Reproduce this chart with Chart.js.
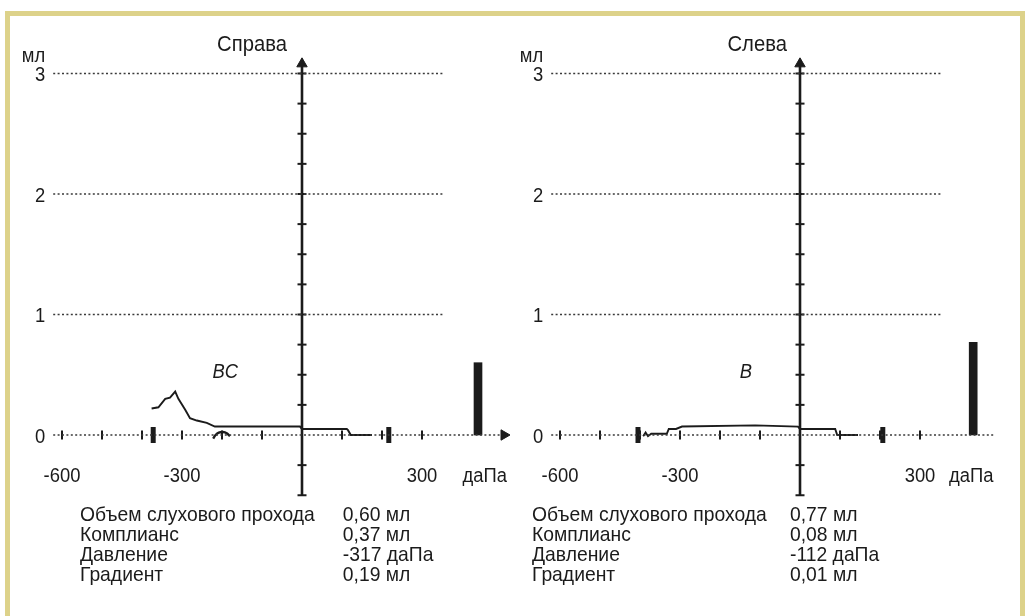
<!DOCTYPE html>
<html>
<head>
<meta charset="utf-8">
<script src="https://cdn.jsdelivr.net/npm/chart.js@4.4.0/dist/chart.umd.min.js"></script>
<style>
  body { margin: 0; background: #fff; overflow: hidden; }
  #frame {
    position: absolute; left: 5px; top: 11px; width: 1020px; height: 605px;
    box-sizing: border-box; border: 5px solid #ddd28a; border-bottom: none;
  }
  canvas { position: absolute; top: 16px; }
  #rightEar { left: 10px; }
  #leftEar { left: 512px; }
</style>
</head>
<body>
<div id="frame"></div>
<canvas id="rightEar" width="502" height="600"></canvas>
<canvas id="leftEar" width="508" height="600"></canvas>
<script>
// tick labels and grid levels
const xTickLabels = [-600, -300, 300];
const yTickLabels = [0, 1, 2, 3];
const gridLevels = [1, 2, 3];
const pressureMarks = [-600, -500, -400, -300, -200, -100, 100, 200, 300];
const volumeMarks = [-0.5, -0.25, 0.25, 0.5, 0.75, 1, 1.25, 1.5, 1.75, 2, 2.25, 2.5, 2.75, 3];

// right ear (Справа)
const rightPressure = [-376, -359, -342, -330, -317, -309, -292, -280, -263, -238, -218, -5, 0, 112, 115, 122, 175];
const rightVolume   = [0.22, 0.23, 0.30, 0.31, 0.36, 0.30, 0.21, 0.14, 0.12, 0.10, 0.07, 0.07, 0.05, 0.05, 0.04, 0.00, 0.00];
const rightCurlPressure = [-222, -216, -208, -198, -188, -180];
const rightCurlVolume   = [-0.03, 0.00, 0.02, 0.025, 0.015, -0.01];
const rightLimits = [-372, 217];
const rightCanal = { pressure: 440, volume: 0.60 };
const rightParams = ["0,60 мл", "0,37 мл", "-317 даПа", "0,19 мл"];

// left ear (Слева)
const leftPressure = [-392, -386, -380, -372, -333, -328, -310, -295, -112, -5, 0, 88, 93, 145];
const leftVolume   = [-0.01, 0.02, -0.01, 0.01, 0.01, 0.05, 0.05, 0.07, 0.08, 0.07, 0.05, 0.05, 0.00, 0.00];
const leftLimits = [-405, 207];
const leftCanal = { pressure: 433, volume: 0.77 };
const leftParams = ["0,77 мл", "0,08 мл", "-112 даПа", "0,01 мл"];

const paramNames = ["Объем слухового прохода", "Комплианс", "Давление", "Градиент"];

const FONT = '"Liberation Sans", Arimo, Arial, sans-serif';
const INK = "#1b1b1b";
const NARROW = 0.92; // the print face is a little condensed

const pts = (xs, ys) => xs.map((x, i) => ({ x: x, y: ys[i] }));

function narrowText(ctx, text, px, py) {
    ctx.save();
    ctx.translate(px, py);
    ctx.scale(NARROW, 1);
    ctx.fillText(text, 0, 0);
    ctx.restore();
}

const textPlugin = {
    id: "tympText",
    afterDatasetsDraw(chart, args, o) {
        const ctx = chart.ctx;
        const x = chart.scales.x, y = chart.scales.y;
        ctx.save();
        ctx.fillStyle = INK;

        ctx.font = "22px " + FONT;
        ctx.textAlign = "center";
        ctx.textBaseline = "alphabetic";
        narrowText(ctx, o.title, x.getPixelForValue(o.titleX), y.getPixelForValue(3.19));

        ctx.font = "20px " + FONT;
        ctx.textAlign = "right";
        narrowText(ctx, "мл", x.getPixelForValue(-642), y.getPixelForValue(3.095));
        ctx.textBaseline = "middle";
        yTickLabels.forEach(v => {
            narrowText(ctx, String(v), x.getPixelForValue(-642), y.getPixelForValue(v) + 2);
        });

        ctx.textAlign = "center";
        ctx.textBaseline = "alphabetic";
        xTickLabels.forEach(v => {
            narrowText(ctx, String(v), x.getPixelForValue(v), y.getPixelForValue(-0.39));
        });
        narrowText(ctx, "даПа", x.getPixelForValue(o.unitX), y.getPixelForValue(-0.39));

        ctx.font = "italic 20px " + FONT;
        narrowText(ctx, o.curveLabel, x.getPixelForValue(o.curveLabelX), y.getPixelForValue(0.47));

        ctx.font = "21px " + FONT;
        ctx.textAlign = "left";
        const top = y.getPixelForValue(-0.714);
        paramNames.forEach((name, i) => {
            narrowText(ctx, name, x.getPixelForValue(o.tableX[0]), top + i * 20);
            narrowText(ctx, o.values[i], x.getPixelForValue(o.tableX[1]), top + i * 20);
        });
        ctx.restore();
    }
};

function makeChart(id, cfg) {
    const dotted = { borderColor: "#3a3a3a", borderWidth: 1.6, borderDash: [2, 2.4], pointRadius: 0 };
    const datasets = [];

    gridLevels.forEach(v => {
        datasets.push(Object.assign({ data: [{ x: -622, y: v }, { x: 357, y: v }] }, dotted));
    });
    datasets.push(Object.assign({}, dotted, {
        data: [{ x: -622, y: 0 }, { x: cfg.zeroEnd, y: 0 }],
        pointRadius: [0, cfg.arrow ? 6 : 0],
        pointStyle: "triangle",
        rotation: 90,
        pointBackgroundColor: INK,
        pointBorderColor: INK,
        pointBorderWidth: 1
    }));
    // vertical axis with arrow
    datasets.push({
        data: [{ x: 0, y: -0.5 }, { x: 0, y: 3.08 }],
        borderColor: INK, borderWidth: 2.6,
        pointRadius: [0, 6], pointStyle: "triangle",
        pointBackgroundColor: INK, pointBorderColor: INK, pointBorderWidth: 1
    });
    datasets.push({
        type: "scatter",
        data: volumeMarks.map(v => ({ x: 0, y: v })),
        pointStyle: "line", pointRadius: 4.5, pointBorderWidth: 2, pointBorderColor: INK
    });
    datasets.push({
        type: "scatter",
        data: pressureMarks.map(v => ({ x: v, y: 0 })),
        pointStyle: "line", rotation: 90, pointRadius: 4.5, pointBorderWidth: 2, pointBorderColor: INK
    });
    datasets.push({
        type: "scatter",
        data: cfg.limits.map(v => ({ x: v, y: 0 })),
        pointStyle: "line", rotation: 90, pointRadius: 8, pointBorderWidth: 5, pointBorderColor: INK
    });
    datasets.push({
        type: "bar",
        data: [{ x: cfg.canal.pressure, y: cfg.canal.volume }],
        backgroundColor: INK, barThickness: 8
    });
    datasets.push({
        data: pts(cfg.pressure, cfg.volume),
        borderColor: INK, borderWidth: 1.9, pointRadius: 0, tension: 0
    });
    if (cfg.curl) {
        datasets.push({
            data: pts(cfg.curl[0], cfg.curl[1]),
            borderColor: INK, borderWidth: 2.4, pointRadius: 0, tension: 0.3
        });
    }

    return new Chart(document.getElementById(id), {
        type: "line",
        data: { datasets: datasets },
        plugins: [textPlugin],
        options: {
            responsive: false,
            animation: false,
            layout: { padding: 0, autoPadding: false },
            scales: {
                x: { type: "linear", display: false, offset: false, min: cfg.xMin, max: cfg.xMax },
                y: { type: "linear", display: false, min: -1.502, max: 3.477 }
            },
            plugins: {
                legend: { display: false },
                tooltip: { enabled: false },
                tympText: cfg.text
            }
        }
    });
}

makeChart("rightEar", {
    xMin: -730, xMax: 525, zeroEnd: 505, arrow: true,
    pressure: rightPressure, volume: rightVolume,
    curl: [rightCurlPressure, rightCurlVolume],
    limits: rightLimits, canal: rightCanal,
    text: { title: "Справа", titleX: -125, unitX: 457, curveLabel: "BC", curveLabelX: -192,
            tableX: [-555, 102], values: rightParams }
});

makeChart("leftEar", {
    xMin: -720, xMax: 550, zeroEnd: 483, arrow: false,
    pressure: leftPressure, volume: leftVolume,
    limits: leftLimits, canal: leftCanal,
    text: { title: "Слева", titleX: -107, unitX: 428, curveLabel: "B", curveLabelX: -135,
            tableX: [-670, -25], values: leftParams }
});
</script>
</body>
</html>
